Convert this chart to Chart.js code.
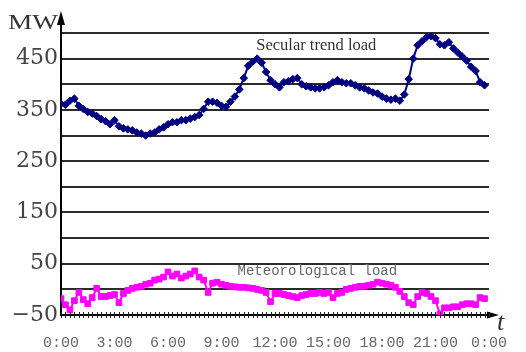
<!DOCTYPE html>
<html>
<head>
<meta charset="utf-8">
<script src="https://cdn.jsdelivr.net/npm/chart.js@4/dist/chart.umd.min.js"></script>
<style>
  html, body { margin: 0; padding: 0; background: #ffffff; }
  canvas { display: block; }
</style>
</head>
<body>
<canvas id="load" width="526" height="352"></canvas>
<script>
// Time axis: one sample every 15 minutes, 96 samples per day
const slotsPerDay = 96;
const hourLabels = ['0:00', '3:00', '6:00', '9:00', '12:00', '15:00', '18:00', '21:00', '0:00'];
const labelledLoads = [-50, 50, 150, 250, 350, 450];

// Secular trend load, MW
const secularLoad = [
  362, 360, 368, 372, 358, 352, 346, 343, 338, 332, 328, 322,
  330, 318, 314, 312, 310, 306, 304, 300, 304, 306, 312, 316,
  322, 326, 326, 330, 330, 333, 336, 340, 352, 366, 366, 364,
  358, 356, 366, 376, 390, 412, 436, 444, 450, 442, 424, 408,
  400, 394, 404, 406, 410, 412, 400, 396, 394, 392, 392, 394,
  398, 404, 408, 404, 402, 402, 398, 394, 392, 388, 384, 382,
  376, 372, 370, 372, 368, 380, 410, 450, 476, 484, 492, 494,
  490, 478, 476, 482, 470, 462, 454, 446, 434, 426, 404, 398
];

// Meteorological load, MW
const meteoLoad = [
  -18, -30, -40, -22, -6, -20, -28, -16, 2, -14, -14, -12,
  -10, -26, -8, -2, 2, 4, 6, 10, 12, 18, 20, 24,
  34, 26, 30, 22, 26, 30, 36, 24, 18, -6, 12, 14,
  10, 8, 6, 5, 4, 4, 3, 2, 0, -2, -6, -24,
  -8, -8, -10, -12, -14, -16, -12, -10, -8, -8, -6, -8,
  -6, -16, -8, -6, 0, 2, 4, 6, 6, 8, 10, 14,
  12, 10, 8, 4, -4, -14, -26, -30, -14, -6, -8, -14,
  -22, -48, -36, -36, -34, -34, -30, -28, -28, -30, -16, -18
];

const toPoints = arr => arr.map((v, i) => ({ x: i, y: v }));

// Axis arrows, quarter-hour ticks and in-plot captions
const decorations = {
  id: 'decorations',
  afterDatasetsDraw(chart) {
    const { ctx, chartArea: a, scales: { x, y } } = chart;
    ctx.save();
    ctx.fillStyle = '#000';
    ctx.strokeStyle = '#000';

    // y axis extension and arrow head
    ctx.lineWidth = 2;
    ctx.beginPath();
    ctx.moveTo(a.left, a.top);
    ctx.lineTo(a.left, a.top - 10);
    ctx.stroke();
    ctx.beginPath();
    ctx.moveTo(a.left, a.top - 22);
    ctx.lineTo(a.left - 4, a.top - 8);
    ctx.lineTo(a.left + 4, a.top - 8);
    ctx.closePath();
    ctx.fill();

    // x axis extension and arrow head
    ctx.beginPath();
    ctx.moveTo(a.right, a.bottom);
    ctx.lineTo(a.right + 4, a.bottom);
    ctx.stroke();
    ctx.beginPath();
    ctx.moveTo(a.right + 10, a.bottom);
    ctx.lineTo(a.right - 2, a.bottom - 3.5);
    ctx.lineTo(a.right - 2, a.bottom + 3.5);
    ctx.closePath();
    ctx.fill();

    // quarter-hour tick marks along the time axis
    ctx.lineWidth = 1;
    ctx.strokeStyle = '#222';
    for (let i = 0; i <= slotsPerDay; i++) {
      const px = Math.round(x.getPixelForValue(i)) + 0.5;
      ctx.beginPath();
      ctx.moveTo(px, a.bottom - 3);
      ctx.lineTo(px, a.bottom + 3);
      ctx.stroke();
    }

    // axis names
    ctx.fillStyle = '#333';
    ctx.textBaseline = 'alphabetic';
    ctx.textAlign = 'left';
    ctx.save();
    ctx.translate(8, 29);
    ctx.scale(1.3, 1);
    ctx.font = '21px "Liberation Serif", serif';
    ctx.fillText('MW', 0, 0);
    ctx.restore();
    ctx.font = 'italic 26px "Liberation Serif", serif';
    ctx.fillText('t', a.right + 8, a.bottom + 15);

    // series captions
    ctx.fillStyle = '#333';
    ctx.font = '16.5px "Liberation Serif", serif';
    ctx.textBaseline = 'middle';
    ctx.fillText('Secular trend load', x.getPixelForValue(43.8), y.getPixelForValue(475));
    ctx.fillStyle = '#666';
    ctx.font = '14px "Liberation Mono", monospace';
    ctx.fillText('Meteorological load', x.getPixelForValue(39.6), y.getPixelForValue(35));
    ctx.restore();
  }
};

new Chart(document.getElementById('load'), {
  type: 'line',
  data: {
    datasets: [
      {
        label: 'Secular trend load',
        data: toPoints(secularLoad),
        borderColor: '#000080',
        backgroundColor: '#000080',
        borderWidth: 2,
        pointStyle: 'rectRot',
        pointRadius: 3.8,
        pointBorderWidth: 1,
        tension: 0
      },
      {
        label: 'Meteorological load',
        data: toPoints(meteoLoad),
        borderColor: '#ff00ff',
        backgroundColor: '#ff00ff',
        borderWidth: 2,
        pointStyle: 'rect',
        pointRadius: 4,
        pointBorderWidth: 1,
        tension: 0
      }
    ]
  },
  options: {
    responsive: false,
    devicePixelRatio: 1,
    animation: false,
    layout: { padding: { top: 33, right: 18, left: 0, bottom: 0 } },
    plugins: { legend: { display: false }, tooltip: { enabled: false } },
    scales: {
      x: {
        type: 'linear',
        min: 0,
        max: slotsPerDay,
        afterFit(scale) { scale.height = 37; },
        grid: { display: false, drawTicks: false },
        border: { display: true, color: '#000', width: 2 },
        ticks: {
          stepSize: 12,
          autoSkip: false,
          maxRotation: 0,
          padding: 19,
          color: '#666',
          font: { family: '"Liberation Mono", monospace', size: 15 },
          callback: v => hourLabels[v / 12] ?? ''
        }
      },
      y: {
        min: -50,
        max: 500,
        afterFit(scale) { scale.width = 61; },
        grid: { color: '#2b2b2b', lineWidth: 2, drawTicks: false },
        border: { display: true, color: '#000', width: 2 },
        ticks: {
          stepSize: 50,
          autoSkip: false,
          padding: 3,
          color: '#444',
          font: { family: '"DejaVu Serif", serif', size: 22 },
          callback: v => labelledLoads.includes(v) ? String(v).replace('-', '\u2212') : ''
        }
      }
    }
  },
  plugins: [decorations]
});
</script>
</body>
</html>
